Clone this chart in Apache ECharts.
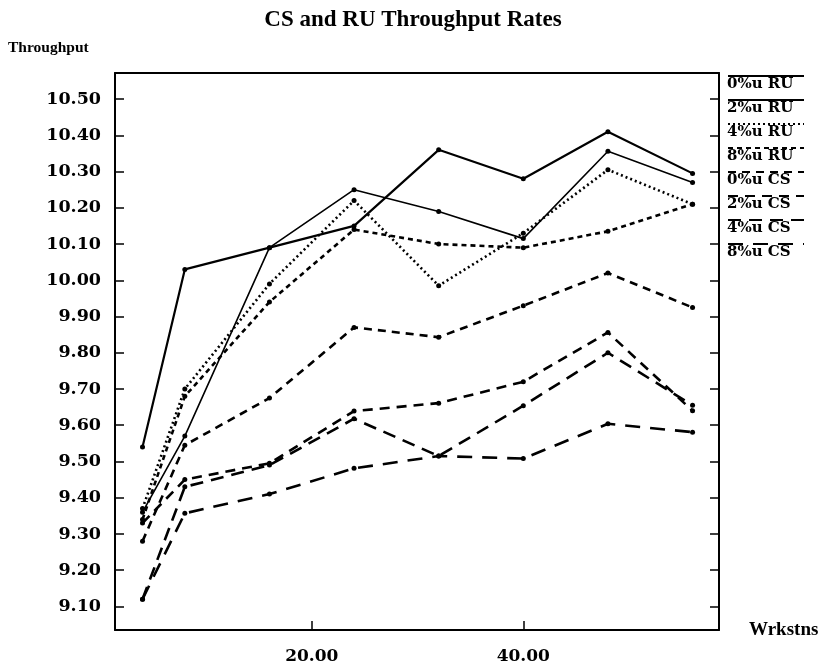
<!DOCTYPE html>
<html>
<head>
<meta charset="utf-8">
<script src="https://cdn.jsdelivr.net/npm/echarts@6/dist/echarts.min.js"></script>
<style>html,body{margin:0;padding:0;background:#fff}#c{width:826px;height:665px}</style>
</head>
<body>
<div id="c"></div>
<script>
const workstations = [4, 8, 16, 24, 32, 40, 48, 56];
const seriesNames = ['0%u RU', '2%u RU', '4%u RU', '8%u RU', '0%u CS', '2%u CS', '4%u CS', '8%u CS'];
const ru0 = [9.54, 10.03, 10.09, 10.15, 10.36, 10.28, 10.41, 10.295];
const ru2 = [9.36, 9.57, 10.09, 10.25, 10.19, 10.115, 10.356, 10.27];
const ru4 = [9.37, 9.70, 9.99, 10.22, 9.985, 10.13, 10.305, 10.21];
const ru8 = [9.34, 9.68, 9.94, 10.14, 10.10, 10.09, 10.135, 10.21];
const cs0 = [9.28, 9.545, 9.675, 9.87, 9.843, 9.93, 10.02, 9.925];
const cs2 = [9.33, 9.45, 9.495, 9.639, 9.661, 9.72, 9.856, 9.64];
const cs4 = [9.12, 9.43, 9.49, 9.618, 9.515, 9.654, 9.80, 9.655];
const cs8 = [9.12, 9.357, 9.41, 9.481, 9.515, 9.508, 9.604, 9.581];
const yTicks = [9.10, 9.20, 9.30, 9.40, 9.50, 9.60, 9.70, 9.80, 9.90, 10.00, 10.10, 10.20, 10.30, 10.40, 10.50];
const xTicks = [20, 40];

const allValues = [ru0, ru2, ru4, ru8, cs0, cs2, cs4, cs8];
const styles = [
  {type: 'solid', width: 2.2},
  {type: 'solid', width: 1.6},
  {type: [2, 3], width: 2.6},
  {type: [5, 4], width: 2.6},
  {type: [8, 6], width: 2.6},
  {type: [10, 7], width: 2.6},
  {type: [13, 8], width: 2.6},
  {type: [15, 10], width: 2.6}
];
const serif = '"Liberation Serif", "DejaVu Serif", serif';
const wide = '"DejaVu Serif", serif';

const series = allValues.map((vals, i) => ({
  name: seriesNames[i],
  type: 'line',
  data: vals.map((v, j) => [workstations[j], v]),
  symbol: 'circle',
  symbolSize: 5,
  color: '#000',
  itemStyle: {color: '#000'},
  lineStyle: {color: '#000', type: styles[i].type, width: styles[i].width},
  animation: false,
  z: 10 - i
}));

const chart = echarts.init(document.getElementById('c'), null, {renderer: 'canvas'});
chart.setOption({
  backgroundColor: '#fff',
  animation: false,
  title: [
    {text: 'CS and RU Throughput Rates', left: 'center', top: 4,
     textStyle: {fontFamily: serif, fontSize: 23, fontWeight: 'bold', color: '#000'}},
    {text: 'Throughput', left: 3, top: 35,
     textStyle: {fontFamily: serif, fontSize: 15.5, fontWeight: 'bold', color: '#000'}}
  ],
  legend: {
    orient: 'vertical',
    left: 722,
    top: 54,
    itemGap: -10,
    itemWidth: 76,
    itemHeight: 14,
    align: 'left',
    data: seriesNames,
    itemStyle: {opacity: 0},
    formatter: name => '\n' + name,
    textStyle: {fontFamily: wide, fontSize: 15, fontWeight: 'bold', color: '#000',
                lineHeight: 17, padding: [0, 0, 0, -82]},
    selectedMode: false
  },
  grid: {left: 115, top: 73, right: 107, bottom: 33, containLabel: false},
  xAxis: [{
    type: 'value',
    min: 1.4,
    max: 58.5,
    name: 'Wrkstns',
    nameLocation: 'end',
    nameGap: 30,
    nameTextStyle: {fontFamily: serif, fontSize: 19, fontWeight: 'bold', color: '#000', verticalAlign: 'middle', padding: [6, 0, 0, 0]},
    axisLine: {show: true, onZero: false, lineStyle: {color: '#000', width: 2}},
    axisTick: {show: true, inside: true, length: 9, customValues: xTicks, lineStyle: {color: '#000', width: 1.5}},
    axisLabel: {customValues: xTicks, formatter: v => v.toFixed(2), fontFamily: wide, fontSize: 17, fontWeight: 'bold', color: '#000', margin: 18},
    splitLine: {show: false}
  }, {
    type: 'value', position: 'top', min: 1.4, max: 58.5,
    axisLine: {show: true, onZero: false, lineStyle: {color: '#000', width: 2}},
    axisTick: {show: false}, axisLabel: {show: false}, splitLine: {show: false}
  }],
  yAxis: [{
    type: 'value',
    min: 9.035,
    max: 10.572,
    axisLine: {show: true, onZero: false, lineStyle: {color: '#000', width: 2}},
    axisTick: {show: true, inside: true, length: 9, customValues: yTicks, lineStyle: {color: '#000', width: 1.5}},
    axisLabel: {customValues: yTicks, formatter: v => v.toFixed(2), fontFamily: wide, fontSize: 17.5, fontWeight: 'bold', color: '#000', margin: 14},
    splitLine: {show: false}
  }, {
    type: 'value', position: 'right', min: 9.035, max: 10.572,
    axisLine: {show: true, onZero: false, lineStyle: {color: '#000', width: 2}},
    axisTick: {show: true, inside: true, length: 9, customValues: yTicks, lineStyle: {color: '#000', width: 1.5}},
    axisLabel: {show: false}, splitLine: {show: false}
  }],
  series: series
});
</script>
</body>
</html>
